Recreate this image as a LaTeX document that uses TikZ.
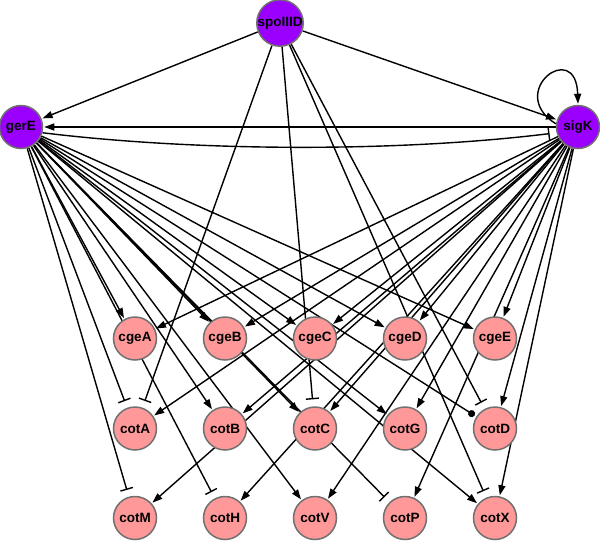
\documentclass[tikz,border=0pt]{standalone}
\usepackage{fontspec}
\setmainfont{Liberation Sans}
\usetikzlibrary{arrows.meta,backgrounds}
\definecolor{purp}{RGB}{155,0,255}
\definecolor{pinkn}{RGB}{255,153,153}
\definecolor{bord}{RGB}{112,112,112}
\begin{document}
\begin{tikzpicture}[x=1pt,y=-1pt,
  gn/.style={circle, draw=bord, line width=1.5pt, minimum size=43pt, inner sep=0pt,
    font=\fontsize{13.5}{13.5}\selectfont\bfseries},
  topn/.style={gn, fill=purp},
  gene/.style={gn, fill=pinkn},
  edge/.style={line width=1.4pt, black},
  act/.style={edge, -{Triangle[length=10pt,width=7pt]}, shorten >=1pt},
  inh/.style={edge, -{Bar[width=13pt,line width=1.4pt]}, shorten >=7pt},
  dotx/.style={edge, -{Circle[length=7pt]}, shorten >=2pt}]
\useasboundingbox (0,0) rectangle (600,541);
% nodes
\node[topn] (spoIIID) at (280,23) {spoIIID};
\node[topn] (gerE) at (21,127) {gerE};
\node[topn] (sigK) at (578,127) {sigK};
\node[gene] (cgeA) at (135,338.5) {cgeA};
\node[gene] (cgeB) at (225,338.5) {cgeB};
\node[gene] (cgeC) at (315,338.5) {cgeC};
\node[gene] (cgeD) at (405,338.5) {cgeD};
\node[gene] (cgeE) at (495,338.5) {cgeE};
\node[gene] (cotA) at (135,428.5) {cotA};
\node[gene] (cotB) at (225,428.5) {cotB};
\node[gene] (cotC) at (315,428.5) {cotC};
\node[gene] (cotG) at (405,428.5) {cotG};
\node[gene] (cotD) at (495,428.5) {cotD};
\node[gene] (cotM) at (135,518) {cotM};
\node[gene] (cotH) at (225,518) {cotH};
\node[gene] (cotV) at (315,518) {cotV};
\node[gene] (cotP) at (405,518) {cotP};
\node[gene] (cotX) at (495,518) {cotX};
\begin{scope}[on background layer]
% spoIIID
\draw[act] (spoIIID) -- (gerE);
\draw[act] (spoIIID) -- (sigK);
\foreach \t in {cotA,cotC,cotD,cotX} \draw[inh] (spoIIID) -- (\t);
% gerE / sigK
\draw[act] (sigK) -- (gerE);
\draw[inh] (gerE.-15) .. controls (200,152) and (400,152) .. (sigK.195);
\draw[act] (sigK.172) .. controls (505,92) and (576,38) .. (sigK.north);
% gerE targets
\foreach \t in {cgeA,cgeB,cgeC,cgeD,cgeE,cotB,cotC,cotG,cotV,cotX} \draw[act] (gerE) -- (\t);
\foreach \t in {cotA,cotM,cotH,cotP} \draw[inh] (gerE) -- (\t);
\draw[dotx] (gerE) -- (cotD);
% sigK targets
\foreach \t in {cgeA,cgeB,cgeC,cgeD,cgeE,cotA,cotB,cotC,cotG,cotD,cotM,cotH,cotV,cotP,cotX} \draw[act] (sigK) -- (\t);
\end{scope}
\end{tikzpicture}
\end{document}
